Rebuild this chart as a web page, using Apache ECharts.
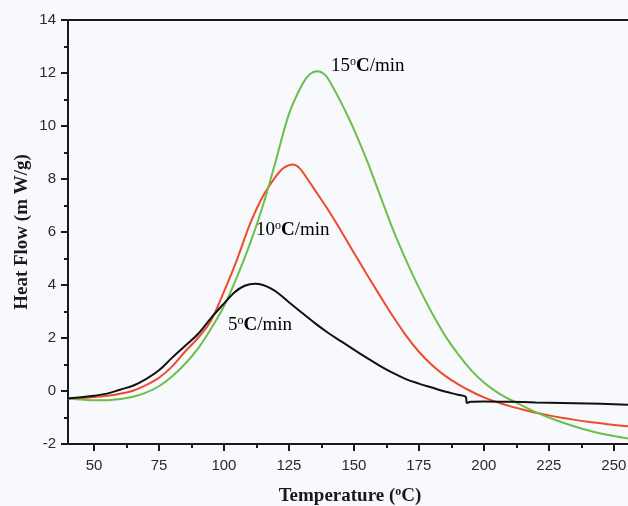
<!DOCTYPE html>
<html>
<head>
<meta charset="utf-8">
<script src="https://cdn.jsdelivr.net/npm/echarts@6/dist/echarts.min.js"></script>
<style>
html,body{margin:0;padding:0;background:#f7f9fc;}
#chart{width:628px;height:506px;}
</style>
</head>
<body>
<div id="chart"></div>
<script>
// ---- data ----
const xTickValues = [50, 75, 100, 125, 150, 175, 200, 225, 250];
const xMinorTickValues = [62.5, 87.5, 112.5, 137.5, 162.5, 187.5, 212.5, 237.5];

const temp5 = [40, 45, 50, 55, 60, 65, 70, 75, 80, 85, 90, 95, 100, 104, 108, 112, 115, 118, 121, 125, 130, 135, 140, 145, 150, 155, 160, 165, 170, 175, 180, 185, 190, 193, 193.5, 195, 200, 210, 220, 230, 240, 250, 257];
const flow5 = [-0.28, -0.24, -0.18, -0.1, 0.05, 0.2, 0.45, 0.78, 1.25, 1.7, 2.15, 2.75, 3.3, 3.72, 3.97, 4.05, 4.0, 3.87, 3.68, 3.35, 2.95, 2.56, 2.2, 1.88, 1.56, 1.25, 0.95, 0.68, 0.45, 0.28, 0.13, -0.02, -0.14, -0.22, -0.45, -0.41, -0.4, -0.41, -0.43, -0.45, -0.47, -0.5, -0.52];

const temp10 = [40, 45, 50, 55, 60, 65, 70, 75, 80, 85, 90, 95, 100, 105, 110, 115, 120, 123, 126.5, 129, 132, 135, 140, 145, 150, 155, 160, 165, 170, 175, 180, 185, 190, 195, 200, 205, 210, 215, 220, 225, 230, 235, 240, 245, 250, 257];
const flow10 = [-0.28, -0.27, -0.23, -0.18, -0.1, 0.01, 0.22, 0.5, 0.92, 1.48, 2.0, 2.65, 3.75, 4.95, 6.3, 7.35, 8.1, 8.42, 8.55, 8.42, 8.02, 7.58, 6.85, 6.05, 5.22, 4.4, 3.6, 2.82, 2.1, 1.48, 0.98, 0.58, 0.26, -0.01, -0.24, -0.42, -0.57, -0.7, -0.82, -0.92, -1.01, -1.09, -1.16, -1.22, -1.28, -1.34];

const temp15 = [40, 45, 50, 55, 60, 65, 70, 75, 80, 85, 90, 95, 100, 105, 110, 115, 120, 125, 130, 133, 136, 139, 142, 145, 148, 151, 155, 160, 165, 170, 175, 180, 185, 190, 195, 200, 205, 210, 215, 220, 225, 230, 235, 240, 245, 250, 257];
const flow15 = [-0.28, -0.32, -0.35, -0.35, -0.3, -0.22, -0.06, 0.18, 0.55, 1.02, 1.6, 2.35, 3.2, 4.3, 5.55, 7.0, 8.7, 10.45, 11.55, 11.95, 12.07, 11.92, 11.45, 10.9, 10.3, 9.65, 8.7, 7.4, 6.1, 4.95, 3.9, 2.95, 2.1, 1.4, 0.8, 0.32, -0.04, -0.32, -0.56, -0.8, -1.0, -1.18, -1.34, -1.48, -1.6, -1.7, -1.82];

const seriesNames = ['5°C/min', '10°C/min', '15°C/min'];
const seriesColors = ['#111111', '#ee4a2b', '#6cbf4a'];

function pairs(xs, ys) { return xs.map((x, i) => [x, ys[i]]); }

const chart = echarts.init(document.getElementById('chart'), null, {renderer: 'canvas'});
const serif = '"Liberation Serif", "Times New Roman", serif';
const sans = '"Liberation Sans", Arial, sans-serif';
const ink = '#1a1a1a';

const labelRich = {
  n: {fontFamily: serif, fontSize: 19, color: ink},
  sup: {fontFamily: serif, fontSize: 12, color: ink, verticalAlign: 'top', padding: [0, 0, 9, 0]},
  b: {fontFamily: serif, fontSize: 19, fontWeight: 'bold', color: ink}
};

const gridBox = {left: 68, top: 20, right: -4, bottom: 62, containLabel: false, outerBoundsMode: 'none'};

chart.setOption({
  backgroundColor: '#f7f9fc',
  animation: false,
  grid: [
    Object.assign({show: true, borderColor: ink, borderWidth: 2, backgroundColor: 'transparent'}, gridBox),
    Object.assign({show: false}, gridBox)
  ],
  xAxis: [{
    gridIndex: 0, type: 'value', min: 40, max: 257, position: 'bottom',
    name: 'Temperature ({s|o}C)', nameLocation: 'middle', nameGap: 42, nameMoveOverlap: false,
    nameTextStyle: {fontFamily: serif, fontSize: 19, fontWeight: 'bold', color: ink,
      rich: {s: {fontFamily: serif, fontSize: 12, fontWeight: 'bold', color: ink, padding: [0, 0, 9, 0]}}},
    axisLine: {show: true, onZero: false, lineStyle: {color: ink, width: 2}},
    axisTick: {show: true, customValues: xTickValues, length: 7, lineStyle: {color: ink, width: 2}},
    axisLabel: {show: true, customValues: xTickValues, margin: 14, fontFamily: sans, fontSize: 15, color: '#2a2a2a'},
    splitLine: {show: false}
  }, {
    gridIndex: 1, type: 'value', min: 40, max: 257, position: 'bottom',
    axisLine: {show: false, onZero: false},
    axisTick: {show: true, customValues: xMinorTickValues, length: 4, lineStyle: {color: ink, width: 2}},
    axisLabel: {show: false},
    splitLine: {show: false}
  }],
  yAxis: [{
    gridIndex: 0, type: 'value', min: -2, max: 14, interval: 2,
    name: 'Heat Flow (m W/g)', nameLocation: 'middle', nameGap: 36, nameRotate: 90, nameMoveOverlap: false,
    nameTextStyle: {fontFamily: serif, fontSize: 19, fontWeight: 'bold', color: ink},
    axisLine: {show: true, lineStyle: {color: ink, width: 2}},
    axisTick: {show: true, length: 7, lineStyle: {color: ink, width: 2}},
    minorTick: {show: true, splitNumber: 2, length: 4, lineStyle: {color: ink, width: 2}},
    axisLabel: {margin: 12, fontFamily: sans, fontSize: 15, color: '#2a2a2a'},
    splitLine: {show: false}
  }, {
    gridIndex: 1, type: 'value', min: -2, max: 14, show: false
  }],
  series: [
    {name: seriesNames[0], type: 'line', xAxisIndex: 0, yAxisIndex: 0, data: pairs(temp5, flow5), showSymbol: false, smooth: 0.35, lineStyle: {color: seriesColors[0], width: 2}, z: 3},
    {name: seriesNames[1], type: 'line', xAxisIndex: 0, yAxisIndex: 0, data: pairs(temp10, flow10), showSymbol: false, smooth: 0.35, lineStyle: {color: seriesColors[1], width: 2}, z: 2},
    {name: seriesNames[2], type: 'line', xAxisIndex: 0, yAxisIndex: 0, data: pairs(temp15, flow15), showSymbol: false, smooth: 0.35, lineStyle: {color: seriesColors[2], width: 2}, z: 2}
  ],
  graphic: [
    {type: 'text', left: 331, top: 56, z: 10, style: {text: '{n|15}{sup|o}{b|C}{n|/min}', rich: labelRich}},
    {type: 'text', left: 256, top: 220, z: 10, style: {text: '{n|10}{sup|o}{b|C}{n|/min}', rich: labelRich}},
    {type: 'text', left: 228, top: 315, z: 10, style: {text: '{n|5}{sup|o}{b|C}{n|/min}', rich: labelRich}}
  ]
});
</script>
</body>
</html>
